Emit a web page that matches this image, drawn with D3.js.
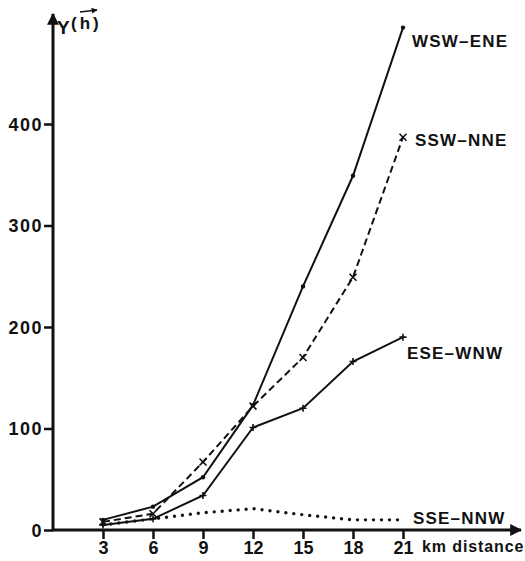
<!DOCTYPE html>
<html>
<head>
<meta charset="utf-8">
<script src="https://cdn.jsdelivr.net/npm/d3@7"></script>
<style>
  body { margin: 0; background: #fff; }
  svg text { font-family: "Liberation Sans", Arial, sans-serif; fill: #111; }
</style>
</head>
<body>
<svg id="chart" width="525" height="561"></svg>
<script>
// distances (km) and variogram values
var distances = [3, 6, 9, 12, 15, 18, 21];
var wsw_ene = [10, 23, 52, 123, 240, 349, 495];
var ssw_nne = [8, 16, 67, 122, 170, 249, 387];
var ese_wnw = [5, 11, 34, 101, 120, 166, 190];
var sse_nnw = [5, 11, 17, 21, 15, 10, 10];
var y_ticks = [0, 100, 200, 300, 400];

var series = [
  {name: "WSW\u2013ENE", values: wsw_ene, dash: null, marker: "tick", lx: 412, ly: 47},
  {name: "SSW\u2013NNE", values: ssw_nne, dash: "7,4", marker: "x", lx: 415, ly: 146},
  {name: "ESE\u2013WNW", values: ese_wnw, dash: null, marker: "plus", lx: 407, ly: 359},
  {name: "SSE\u2013NNW", values: sse_nnw, dash: "0,8", marker: null, lx: 413, ly: 524}
];

var svg = d3.select("#chart");

var x = d3.scaleLinear().domain([0, 21]).range([53, 403]);
var y = d3.scaleLinear().domain([0, 400]).range([530, 124]);

// arrow head
svg.append("defs").append("marker")
  .attr("id", "arrow")
  .attr("viewBox", "0 0 10 10")
  .attr("refX", 9).attr("refY", 5)
  .attr("markerWidth", 4).attr("markerHeight", 4)
  .attr("orient", "auto")
  .append("path").attr("d", "M0,0L10,5L0,10z").attr("fill", "#111");

// axes lines
svg.append("line")
  .attr("x1", x(0)).attr("y1", y(0) + 1)
  .attr("x2", x(0)).attr("y2", 14)
  .attr("stroke", "#111").attr("stroke-width", 3)
  .attr("marker-end", "url(#arrow)");
svg.append("line")
  .attr("x1", x(0) - 1).attr("y1", y(0))
  .attr("x2", 521).attr("y2", y(0))
  .attr("stroke", "#111").attr("stroke-width", 3)
  .attr("marker-end", "url(#arrow)");

// y axis
var yAxis = d3.axisLeft(y).tickValues(y_ticks).tickSize(9).tickPadding(1);
var gy = svg.append("g").attr("transform", "translate(" + x(0) + ",0)").call(yAxis);
gy.select(".domain").remove();
gy.selectAll(".tick line").attr("stroke", "#111").attr("stroke-width", 2.5);
gy.selectAll(".tick text").attr("font-size", 18).attr("font-weight", "bold")
  .attr("letter-spacing", 1.5).attr("dy", "0.36em");

// x axis
var xAxis = d3.axisBottom(x).tickValues(distances).tickSize(9).tickPadding(2);
var gx = svg.append("g").attr("transform", "translate(0," + y(0) + ")").call(xAxis);
gx.select(".domain").remove();
gx.selectAll(".tick line").attr("stroke", "#111").attr("stroke-width", 2.5);
gx.selectAll(".tick text").attr("font-size", 18).attr("font-weight", "bold");

svg.append("text")
  .attr("x", 422).attr("y", 552)
  .attr("font-size", 16).attr("font-weight", "bold").attr("letter-spacing", 0.9)
  .text("km distance");

// y label  Y(h) with arrow over h
svg.append("text").attr("x", 57).attr("y", 34)
  .attr("font-size", 19).attr("font-weight", "bold").text("Y");
svg.append("text").attr("x", 71).attr("y", 29)
  .attr("font-size", 17).attr("font-weight", "bold").attr("letter-spacing", 3).text("(h)");
svg.append("line")
  .attr("x1", 80).attr("y1", 12).attr("x2", 97).attr("y2", 10)
  .attr("stroke", "#111").attr("stroke-width", 1.5)
  .attr("marker-end", "url(#arrow)");

// lines
var line = d3.line()
  .x(function(d, i) { return x(distances[i]); })
  .y(function(d) { return y(d); });

series.forEach(function(s) {
  svg.append("path")
    .datum(s.values)
    .attr("d", line)
    .attr("fill", "none")
    .attr("stroke", "#111")
    .attr("stroke-width", s.marker ? 2 : 3.4)
    .attr("stroke-linecap", s.marker ? "butt" : "round")
    .attr("stroke-dasharray", s.dash);

  if (s.marker) {
    var g = svg.append("g");
    s.values.forEach(function(v, i) {
      var cx = x(distances[i]), cy = y(v), r = 3.5;
      if (s.marker === "x") {
        g.append("path").attr("d", "M" + (cx - r) + "," + (cy - r) + "L" + (cx + r) + "," + (cy + r) +
          "M" + (cx - r) + "," + (cy + r) + "L" + (cx + r) + "," + (cy - r));
      } else if (s.marker === "plus") {
        g.append("path").attr("d", "M" + (cx - r) + "," + cy + "L" + (cx + r) + "," + cy +
          "M" + cx + "," + (cy - r) + "L" + cx + "," + (cy + r));
      } else {
        g.append("circle").attr("cx", cx).attr("cy", cy).attr("r", 2.2).attr("fill", "#111");
      }
    });
    g.selectAll("path").attr("stroke", "#111").attr("stroke-width", 1.6).attr("fill", "none");
  }

  svg.append("text")
    .attr("x", s.lx).attr("y", s.ly)
    .attr("font-size", 17).attr("font-weight", "bold").attr("letter-spacing", 1.2)
    .text(s.name);
});
</script>
</body>
</html>
